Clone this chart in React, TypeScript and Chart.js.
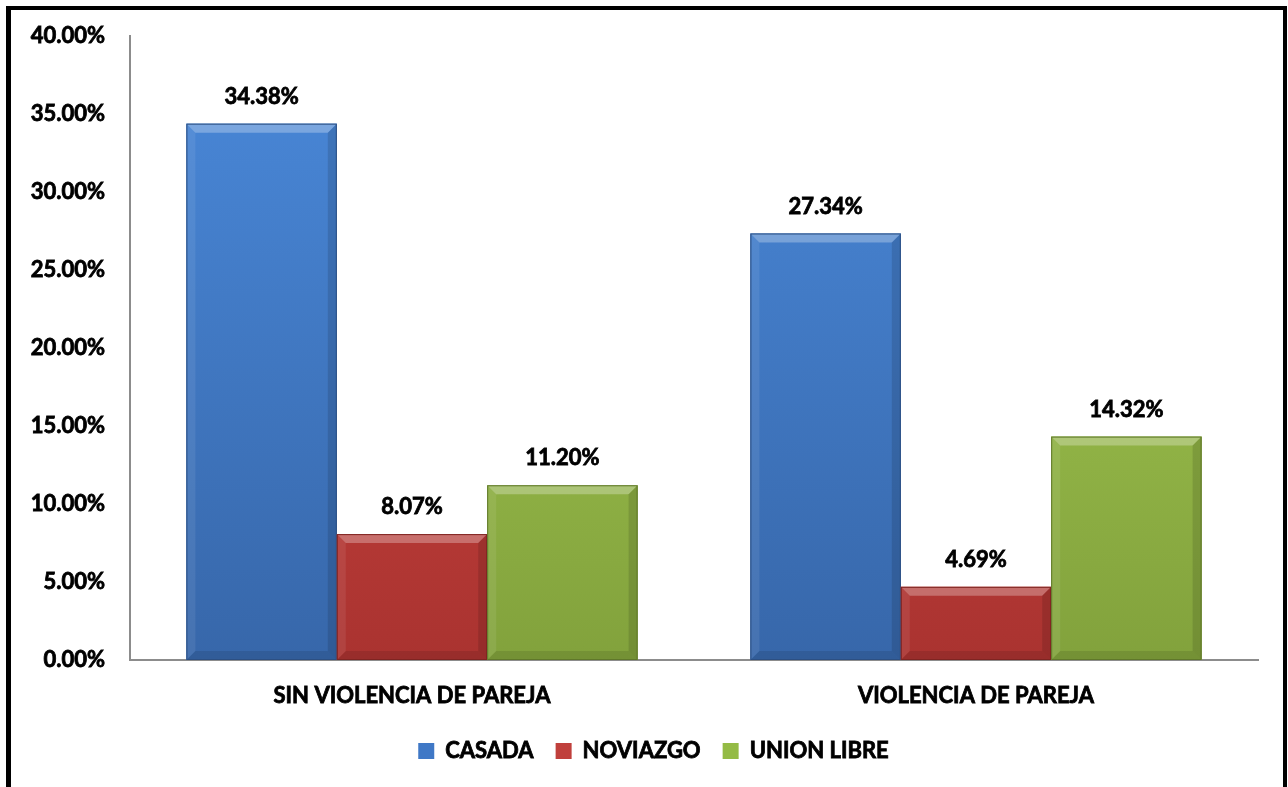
import React, { useEffect, useRef } from "react";
import { Chart, registerables } from "chart.js";

Chart.register(...registerables);

const categories = ["SIN VIOLENCIA DE PAREJA", "VIOLENCIA DE PAREJA"];
const seriesNames = ["CASADA", "NOVIAZGO", "UNION LIBRE"];
const casada = [34.38, 27.34];
const noviazgo = [8.07, 4.69];
const unionLibre = [11.2, 14.32];
const yTicks = [0, 5, 10, 15, 20, 25, 30, 35, 40];

const FONT = "Lato";
const WEIGHT = "bold";
const FSIZE = 22;

const palette = [
  { base: "#3f78c6", top: "#4a89da", bottom: "#3767aa", edge: "#2c4f82" },
  { base: "#c0403c", top: "#d74b46", bottom: "#aa3330", edge: "#7e2421" },
  { base: "#94bb45", top: "#a9cf56", bottom: "#82a23c", edge: "#5f772a" },
];

const bevelPlugin = {
  id: "bevel",
  afterDatasetsDraw(chart: any) {
    const ctx = chart.ctx;
    const area = chart.chartArea;
    chart.data.datasets.forEach((ds: any, di: number) => {
      const meta = chart.getDatasetMeta(di);
      const col = palette[di];
      meta.data.forEach((bar: any) => {
        const p = bar.getProps(["x", "y", "base", "width"], true);
        const l = p.x - p.width / 2;
        const r = p.x + p.width / 2;
        const t = p.y;
        const b = p.base;
        const h = b - t;
        const bv = Math.min(9, h / 2);
        ctx.save();
        const g = ctx.createLinearGradient(0, area.top, 0, area.bottom);
        g.addColorStop(0, col.top);
        g.addColorStop(1, col.bottom);
        ctx.fillStyle = g;
        ctx.fillRect(l, t, r - l, h);
        ctx.beginPath();
        ctx.moveTo(l, t);
        ctx.lineTo(r, t);
        ctx.lineTo(r - bv, t + bv);
        ctx.lineTo(l + bv, t + bv);
        ctx.closePath();
        ctx.fillStyle = "rgba(255,255,255,0.28)";
        ctx.fill();
        ctx.beginPath();
        ctx.moveTo(l, t);
        ctx.lineTo(l + bv, t + bv);
        ctx.lineTo(l + bv, b - bv);
        ctx.lineTo(l, b);
        ctx.closePath();
        ctx.fillStyle = "rgba(255,255,255,0.08)";
        ctx.fill();
        ctx.beginPath();
        ctx.moveTo(r, t);
        ctx.lineTo(r - bv, t + bv);
        ctx.lineTo(r - bv, b - bv);
        ctx.lineTo(r, b);
        ctx.closePath();
        ctx.fillStyle = "rgba(0,0,0,0.12)";
        ctx.fill();
        ctx.beginPath();
        ctx.moveTo(l, b);
        ctx.lineTo(r, b);
        ctx.lineTo(r - bv, b - bv);
        ctx.lineTo(l + bv, b - bv);
        ctx.closePath();
        ctx.fillStyle = "rgba(0,0,0,0.1)";
        ctx.fill();
        ctx.strokeStyle = col.edge;
        ctx.lineWidth = 1;
        ctx.strokeRect(l + 0.5, t + 0.5, r - l - 1, h - 1);
        ctx.restore();
      });
    });
  },
};

const labelPlugin = {
  id: "valueLabels",
  afterDatasetsDraw(chart: any) {
    const ctx = chart.ctx;
    ctx.save();
    ctx.font = `${WEIGHT} ${FSIZE}px ${FONT}`;
    ctx.fillStyle = "#000";
    ctx.strokeStyle = "#000";
    ctx.lineWidth = 0.8;
    ctx.textAlign = "center";
    ctx.textBaseline = "middle";
    chart.data.datasets.forEach((ds: any, di: number) => {
      const meta = chart.getDatasetMeta(di);
      meta.data.forEach((bar: any, i: number) => {
        const v = ds.data[i];
        const txt = v.toFixed(2) + "%";
        ctx.strokeText(txt, bar.x, bar.y - 27);
        ctx.fillText(txt, bar.x, bar.y - 27);
      });
    });
    ctx.restore();
  },
};

const legendShift = {
  id: "legendShift",
  afterLayout(chart: any) {
    const lg = chart.legend;
    if (lg) lg.left += 38;
  },
  afterDraw(chart: any) {
    const lg = chart.legend;
    if (!lg || !lg.legendHitBoxes) return;
    const ctx = chart.ctx;
    ctx.save();
    ctx.font = `${WEIGHT} ${FSIZE}px ${FONT}`;
    ctx.strokeStyle = "#000";
    ctx.lineWidth = 0.8;
    ctx.textAlign = "left";
    ctx.textBaseline = "middle";
    lg.legendItems.forEach((item: any, i: number) => {
      const hb = lg.legendHitBoxes[i];
      ctx.strokeText(item.text, hb.left + 16 + FSIZE / 2, hb.top + hb.height / 2);
    });
    ctx.restore();
  },
};

export default function App() {
  const ref = useRef<HTMLCanvasElement | null>(null);
  useEffect(() => {
    if (!ref.current) return;
    const seriesData = [casada, noviazgo, unionLibre];
    const chart = new Chart(ref.current, {
      type: "bar",
      data: {
        labels: categories,
        datasets: seriesNames.map((name, i) => ({
          label: name,
          data: seriesData[i],
          backgroundColor: palette[i].base,
          borderColor: palette[i].edge,
          borderWidth: 0,
          categoryPercentage: 0.8,
          barPercentage: 1.0,
        })),
      },
      options: {
        animation: false,
        responsive: false,
        maintainAspectRatio: false,
        layout: { padding: { top: 26, right: 25, left: 0, bottom: 14 } },
        plugins: {
          tooltip: { enabled: false },
          legend: {
            position: "bottom",
            labels: {
              font: { family: FONT, size: FSIZE, weight: WEIGHT },
              color: "#000",
              boxWidth: 16,
              boxHeight: 16,
              padding: 22,
            },
          },
        },
        scales: {
          x: {
            grid: { display: false, drawTicks: false },
            border: { display: true, color: "#8c8c8c", width: 2 },
            ticks: {
              font: { family: FONT, size: FSIZE, weight: WEIGHT },
              color: "#000",
              textStrokeColor: "#000",
              textStrokeWidth: 0.8,
              padding: 23,
            },
            afterFit: (s: any) => {
              s.height = 58;
            },
          },
          y: {
            min: 0,
            max: 40,
            afterBuildTicks: (s: any) => {
              s.ticks = yTicks.map((v) => ({ value: v }));
            },
            grid: { display: false, drawTicks: false },
            border: { display: true, color: "#8c8c8c", width: 2 },
            ticks: {
              font: { family: FONT, size: FSIZE, weight: WEIGHT },
              color: "#000",
              textStrokeColor: "#000",
              textStrokeWidth: 0.8,
              padding: 25,
              callback: (v: any) => Number(v).toFixed(2) + "%",
            },
            afterFit: (s: any) => {
              s.width = 119;
              s.paddingTop = 0;
              s.paddingBottom = 0;
            },
          },
        },
      },
      plugins: [bevelPlugin, labelPlugin, legendShift],
    });
    return () => chart.destroy();
  }, []);

  return (
    <div
      style={{
        position: "absolute",
        left: 6,
        top: 6,
        width: 1272,
        height: 800,
        borderTop: "4px solid #000",
        borderLeft: "5px solid #000",
        borderRight: "4px solid #000",
        borderBottom: "4px solid #000",
        background: "#fff",
      }}
    >
      <canvas ref={ref} width={1272} height={776} style={{ display: "block" }} />
    </div>
  );
}
